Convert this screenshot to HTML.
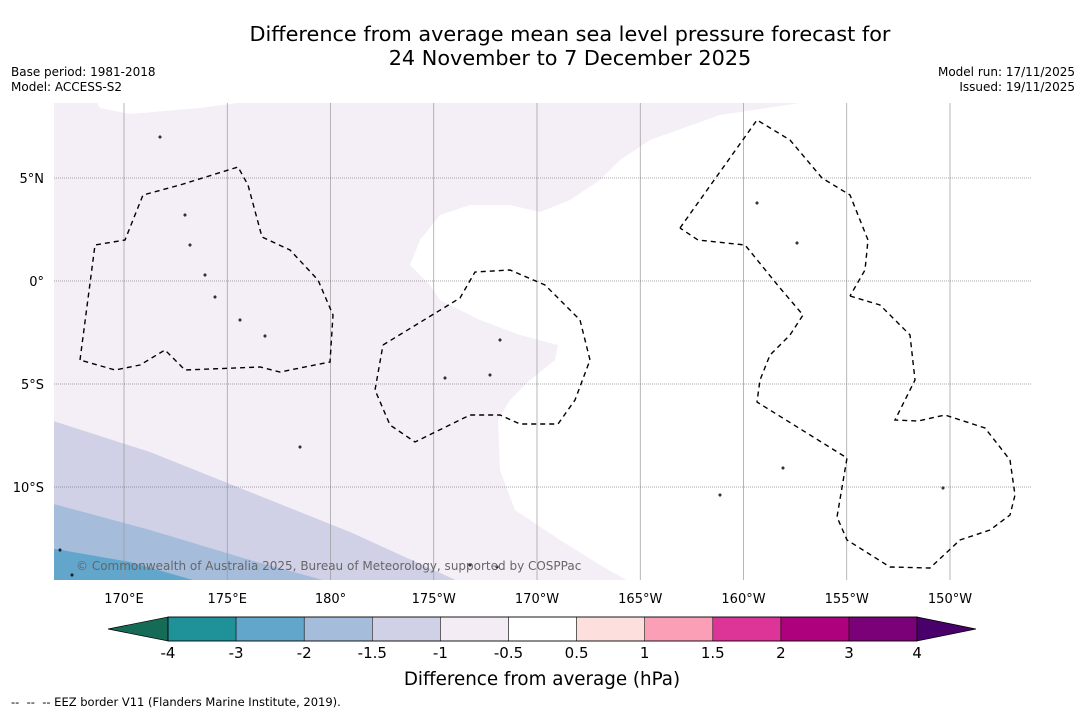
<!DOCTYPE html>
<html><head><meta charset="utf-8"><style>
body{margin:0;width:1085px;height:713px;background:#fff;font-family:"DejaVu Sans","Liberation Sans",sans-serif;position:relative;overflow:hidden}
.t{position:absolute;white-space:nowrap}
</style></head><body>
<div class="t" style="left:0;width:1140px;top:22px;text-align:center;font-size:20.8px;line-height:24px;color:#000">Difference from average mean sea level pressure forecast for<br>24 November to 7 December 2025</div>
<div class="t" style="left:11px;top:65px;font-size:12px;line-height:15px">Base period: 1981-2018<br>Model: ACCESS-S2</div>
<div class="t" style="right:10px;top:65px;font-size:12px;line-height:15px;text-align:right">Model run: 17/11/2025<br>Issued: 19/11/2025</div>
<div class="t" style="left:11px;top:695px;font-size:11.5px">--&nbsp; --&nbsp; -- EEZ border V11 (Flanders Marine Institute, 2019).</div>
<svg id="svg" width="1085" height="713" style="position:absolute;left:0;top:0"></svg>
<script>
const lonTicks=["170°E","175°E","180°","175°W","170°W","165°W","160°W","155°W","150°W"];
const lonVals=[170,175,180,185,190,195,200,205,210];
const latTicks=["5°N","0°","5°S","10°S"];
const latVals=[5,0,-5,-10];
const levels=["-4","-3","-2","-1.5","-1","-0.5","0.5","1","1.5","2","3","4"];
const levelColors=["#1f9299","#62a6cc","#a6bcdb","#d0d1e6","#f3ecf5","#ffffff","#fde0dd","#fa9fb5","#dd3497","#ae017e","#7a0177"];
const underColor="#166b57", overColor="#49006a";
const NS="http://www.w3.org/2000/svg";
const svg=document.getElementById('svg');
function el(t,a,p){const e=document.createElementNS(NS,t);for(const k in a)e.setAttribute(k,a[k]);(p||svg).appendChild(e);return e;}
const X0=54,X1=1031,Y0=103,Y1=580;
const xs=lon=>124+(lon-170)*20.65;
const ys=lat=>281-lat*20.6;
const clip=el('clipPath',{id:'mc'});el('rect',{x:X0,y:Y0,width:X1-X0,height:Y1-Y0},clip);
const g=el('g',{'clip-path':'url(#mc)'});

el('rect',{x:X0,y:Y0,width:X1-X0,height:Y1-Y0,fill:'#f4eef6'},g);
const pt=a=>a.map(p=>p.join(',')).join(' ');
let w=el('polygon',{fill:'#fff',points:pt([[800,103],[720,115],[650,140],[620,160],[600,180],[570,200],[540,212],[510,205],[470,205],[440,215],[420,240],[410,265],[430,285],[440,300],[480,320],[520,335],[558,345],[555,360],[530,380],[510,400],[498,420],[500,470],[515,510],[560,540],[600,565],[630,582],[1035,582],[1035,100]])},g);

el('polygon',{fill:'#fff',points:pt([[95,100],[100,108],[130,114],[200,108],[260,100]])},g);
let b1=el('polygon',{fill:'#d0d1e6',points:pt([[50,420],[150,452],[250,492],[350,532],[460,582],[50,582]])},g);

let b2=el('polygon',{fill:'#a6bcdb',points:pt([[50,503],[150,530],[250,560],[330,582],[50,582]])},g);

let b3=el('polygon',{fill:'#62a6cc',points:pt([[50,548],[130,562],[200,582],[50,582]])},g);

lonVals.forEach(v=>el('line',{x1:xs(v),x2:xs(v),y1:Y0,y2:Y1,stroke:'#999','stroke-width':0.7},g));
latVals.forEach(v=>el('line',{x1:X0,x2:X1,y1:ys(v),y2:ys(v),stroke:'#555','stroke-width':0.6,'stroke-dasharray':'1,1'},g));
const eez=[
[[80,360],[95,245],[125,240],[143,195],[180,185],[238,167],[248,185],[262,237],[290,250],[318,280],[333,315],[330,362],[280,372],[260,367],[185,370],[165,350],[140,365],[115,370],[80,360]],
[[383,345],[460,298],[475,272],[510,270],[545,285],[580,320],[590,360],[575,400],[558,424],[520,424],[500,415],[470,415],[415,442],[390,425],[375,390],[383,345]],
[[680,228],[757,120],[790,140],[822,178],[850,195],[868,240],[865,270],[850,296]],
[[850,296],[880,305],[910,335],[915,380],[895,420],[918,421],[945,415],[985,428],[1010,460],[1015,495],[1010,515],[990,530],[960,540],[930,568],[890,567],[847,540],[837,517],[847,458],[757,402],[760,380],[770,355],[790,335],[803,315],[780,288],[745,245],[698,240],[680,228]]];
eez.forEach((p,i)=>{const l=el('polyline',{points:pt(p),fill:'none',stroke:'#000','stroke-width':1.4,'stroke-dasharray':'5,4'},g);
});
[[160,137],[185,215],[190,245],[205,275],[215,297],[240,320],[265,336],[500,340],[490,375],[445,378],[300,447],[470,565],[497,567],[757,203],[797,243],[783,468],[720,495],[60,550],[72,575],[943,488]].forEach(p=>el('circle',{cx:p[0],cy:p[1],r:1,fill:'none',stroke:'#000','stroke-width':0.9},g));
const cp=el('text',{x:76,y:570,'font-size':12,fill:'#666','font-family':'DejaVu Sans, sans-serif'},g);cp.textContent='© Commonwealth of Australia 2025, Bureau of Meteorology, supported by COSPPac';

lonTicks.forEach((t,i)=>{const e=el('text',{x:xs(lonVals[i]),y:603,'text-anchor':'middle','font-size':13,'font-family':'DejaVu Sans, sans-serif'});e.textContent=t;
});
latTicks.forEach((t,i)=>{const e=el('text',{x:44,y:ys(latVals[i])+5,'text-anchor':'end','font-size':13,'font-family':'DejaVu Sans, sans-serif'});e.textContent=t;
});
const cbx0=168,cbw=68.1,cby=617,cbh=24;
const ua=el('polygon',{points:pt([[108,629],[cbx0,cby],[cbx0,cby+cbh]]),fill:underColor,stroke:'#000','stroke-width':0.7});

levelColors.forEach((c,i)=>{const r=el('rect',{x:cbx0+i*cbw,y:cby,width:cbw,height:cbh,fill:c,stroke:'#000','stroke-width':0.5});
});
const xe=cbx0+levelColors.length*cbw;
const oa=el('polygon',{points:pt([[xe,cby],[976,629],[xe,cby+cbh]]),fill:overColor,stroke:'#000','stroke-width':0.7});

el('rect',{x:cbx0,y:cby,width:xe-cbx0,height:cbh,fill:'none',stroke:'#000','stroke-width':0.8});
levels.forEach((t,i)=>{const e=el('text',{x:cbx0+i*cbw,y:658,'text-anchor':'middle','font-size':15,'font-family':'DejaVu Sans, sans-serif'});e.textContent=t;
});
const ct=el('text',{x:542,y:685,'text-anchor':'middle','font-size':18.3,'font-family':'DejaVu Sans, sans-serif'});ct.textContent='Difference from average (hPa)';

</script>
</body></html>
